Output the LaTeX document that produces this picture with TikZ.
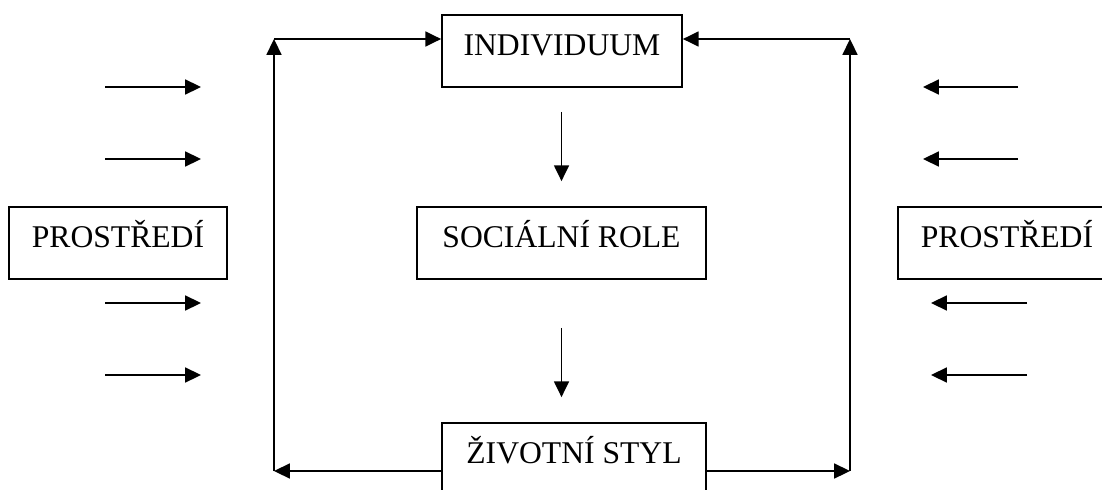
\documentclass[tikz,border=0pt]{standalone}
\usepackage{fontspec}
\setmainfont{Liberation Serif}
\usetikzlibrary{arrows.meta}
\tikzset{
  box/.style={draw,line width=1pt,minimum height=1.44cm,inner sep=0pt,text height=14pt,text depth=8.8pt,font=\fontsize{18}{22}\selectfont},
  arr/.style={line width=1pt,-{Triangle[length=9pt,width=8.5pt]}}
}
\begin{document}
\begin{tikzpicture}[x=0.02cm,y=-0.02cm]
  \useasboundingbox (0,0) rectangle (1102,490);
  \node[box,minimum width=4.8cm] (ind) at (562,51) {INDIVIDUUM};
  \node[box,minimum width=5.78cm] (rol) at (561.5,243) {SOCIÁLNÍ ROLE};
  \node[box,minimum width=5.28cm] (sty) at (574,459) {ŽIVOTNÍ STYL};
  \node[box,minimum width=4.36cm] (envl) at (118,243) {PROSTŘEDÍ};
  \node[box,minimum width=4.36cm] (envr) at (1007,243) {PROSTŘEDÍ};
  \coordinate (bl) at (274,471);
  \coordinate (tl) at (274,39);
  \coordinate (tr) at (850,39);
  \coordinate (br) at (850,471);
  \draw[arr,shorten <=0.48cm,shorten >=0.5cm] (ind.south -| rol.north) -- (rol.north);
  \draw[arr,shorten <=0.96cm,shorten >=0.5cm] (rol.south) -- (rol.south |- sty.north);
  \draw[arr] (sty.west |- bl) -- (bl);
  \draw[arr] (bl) -- (tl);
  \draw[arr] (tl) -- (ind.west |- tl);
  \draw[arr] (sty.east |- br) -- (br);
  \draw[arr] (br) -- (tr);
  \draw[arr] (tr) -- (ind.east |- tr);
  \foreach \y in {87,159,303,375} {
    \coordinate (in\y) at (105,\y);
    \draw[arr] (in\y) -- ++(96,0);
  }
  \foreach \y/\a/\b in {87/1018/923,159/1018/923,303/1027/931,375/1027/931} {
    \coordinate (out\y) at (\a,\y);
    \draw[arr] (out\y) -- (\b,\y);
  }
\end{tikzpicture}
\end{document}
